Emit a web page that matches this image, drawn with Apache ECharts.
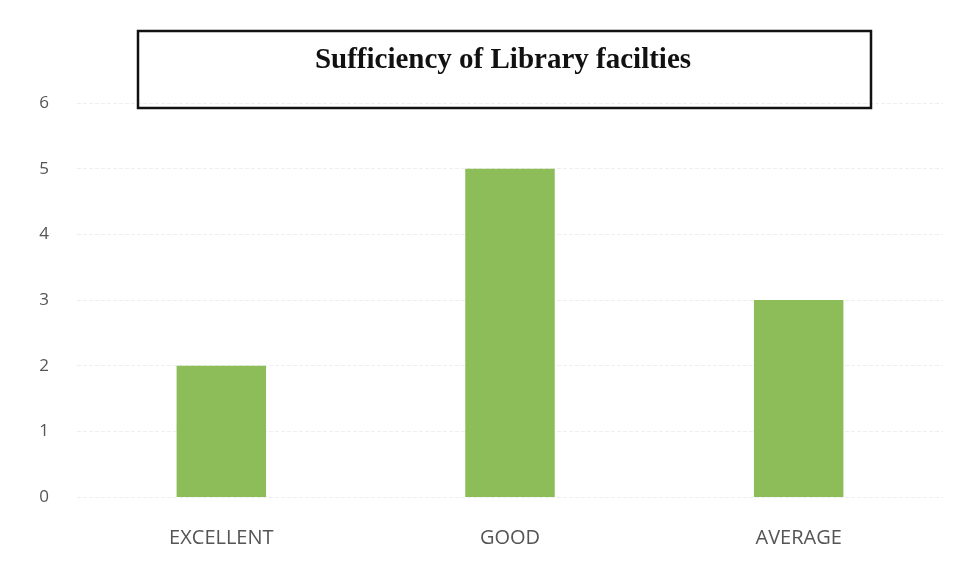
<!DOCTYPE html>
<html>
<head>
<meta charset="utf-8">
<script src="https://cdn.jsdelivr.net/npm/echarts@6/dist/echarts.min.js"></script>
<style>html,body{margin:0;padding:0;background:#fff;}#c{width:959px;height:578px;}</style>
</head>
<body>
<div id="c"></div>
<script>
const categories = ["EXCELLENT", "GOOD", "AVERAGE"];
const values = [2, 5, 3];
const yTicks = [0, 1, 2, 3, 4, 5, 6];
const titleText = "Sufficiency of Library facilties";

const chart = echarts.init(document.getElementById('c'));
chart.setOption({
  backgroundColor: '#ffffff',
  animation: false,
  title: {
    text: titleText,
    left: 498,
    textAlign: 'center',
    top: 41,
    textStyle: { fontFamily: 'Liberation Serif', fontWeight: 'bold', fontSize: 29, color: '#111' }
  },
  graphic: [{
    type: 'rect',
    shape: { x: 138, y: 31, width: 733, height: 77 },
    style: { fill: 'none', stroke: '#111', lineWidth: 2.5 },
    z: 10
  }],
  grid: { left: 77, right: 16, top: 103, bottom: 81, containLabel: false },
  xAxis: {
    type: 'category',
    data: categories,
    axisLine: { show: false },
    axisTick: { show: false },
    axisLabel: { margin: 31, fontFamily: 'Open Sans', fontSize: 20, color: '#555' }
  },
  yAxis: {
    type: 'value',
    min: yTicks[0],
    max: yTicks[yTicks.length - 1],
    interval: 1,
    axisLine: { show: false },
    axisTick: { show: false },
    axisLabel: { margin: 28, fontFamily: 'Open Sans', fontSize: 17, color: '#555' },
    splitLine: { lineStyle: { color: '#efefef', type: 'dashed', width: 1 } }
  },
  series: [{
    type: 'bar',
    data: values,
    barWidth: '31%',
    itemStyle: { color: '#8cbd58' }
  }]
});
</script>
</body>
</html>
